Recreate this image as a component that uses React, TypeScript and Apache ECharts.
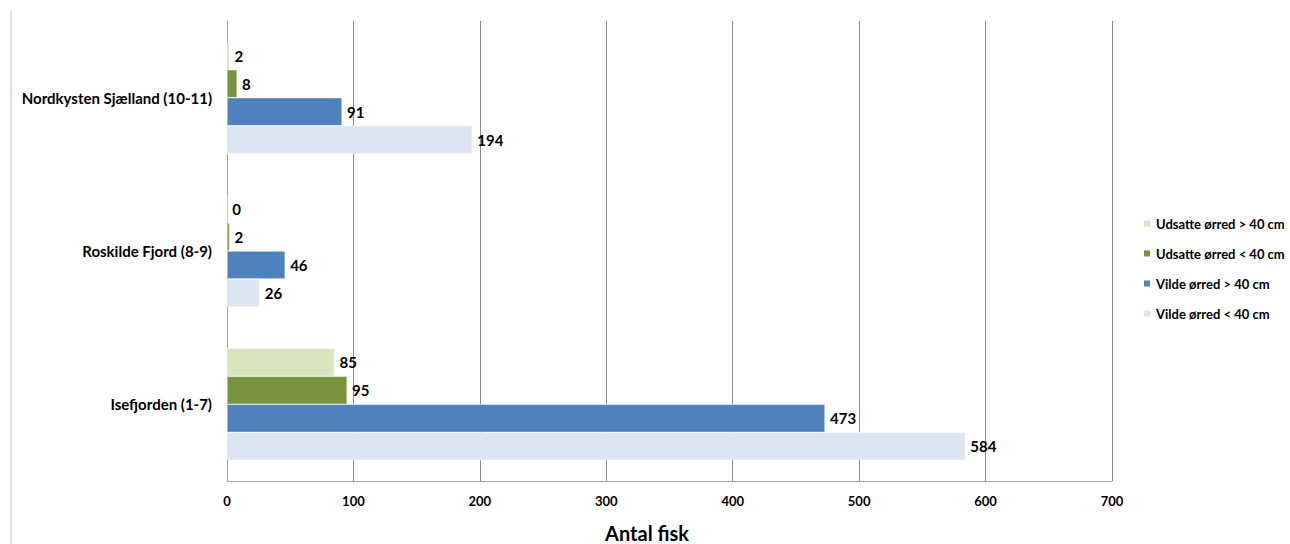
import React, { useEffect, useRef } from "react";
import * as echarts from "echarts";

const categories = ["Isefjorden (1-7)", "Roskilde Fjord (8-9)", "Nordkysten Sjælland (10-11)"];
const seriesNames = ["Udsatte ørred > 40 cm", "Udsatte ørred < 40 cm", "Vilde ørred > 40 cm", "Vilde ørred < 40 cm"];
const udsatteOver40 = [85, 0, 2];
const udsatteUnder40 = [95, 2, 8];
const vildeOver40 = [473, 46, 91];
const vildeUnder40 = [584, 26, 194];
const xTicks = [0, 100, 200, 300, 400, 500, 600, 700];

const colors = ["#d7e4bd", "#77933c", "#4f81bd", "#dce6f2"];
const FONT = "Lato, 'Open Sans', sans-serif";

export default function App() {
  const ref = useRef<HTMLDivElement>(null);
  useEffect(() => {
    if (!ref.current) return;
    const chart = echarts.init(ref.current, undefined, { renderer: "svg" });
    const values = [udsatteOver40, udsatteUnder40, vildeOver40, vildeUnder40];
    chart.setOption({
      animation: false,
      backgroundColor: "#ffffff",
      textStyle: { fontFamily: FONT },
      grid: { left: 227, right: 178, top: 21, bottom: 63 },
      legend: {
        data: seriesNames,
        orient: "vertical",
        left: 1137,
        top: 212,
        itemWidth: 8,
        itemHeight: 8,
        itemGap: 17,
        icon: "rect",
        textStyle: { fontFamily: FONT, fontWeight: "bold", fontSize: 13, color: "#000" },
      },
      xAxis: {
        type: "value",
        min: xTicks[0],
        max: xTicks[xTicks.length - 1],
        interval: 100,
        axisLine: { show: true, lineStyle: { color: "#a6a6a6", width: 1 } },
        axisTick: { show: false },
        splitLine: { show: true, lineStyle: { color: "#8c8c8c", width: 1 } },
        axisLabel: { fontFamily: FONT, fontWeight: "bold", fontSize: 13, color: "#000", margin: 13 },
      },
      yAxis: {
        type: "category",
        data: categories,
        axisLine: { show: true, lineStyle: { color: "#a6a6a6", width: 1 } },
        axisTick: { show: false },
        axisLabel: { fontFamily: FONT, fontWeight: "bold", fontSize: 15, color: "#000", margin: 15 },
      },
      series: seriesNames.map((name, i) => ({
        name,
        type: "bar",
        data: values[i],
        barGap: "0%",
        barCategoryGap: "27%",
        itemStyle: { color: colors[i], borderColor: "#ffffff", borderWidth: 0.5 },
        label: {
          show: true,
          position: "right",
          distance: 5,
          fontFamily: FONT,
          fontWeight: "bold",
          fontSize: 15,
          color: "#000",
        },
      })),
      graphic: [
        {
          type: "line",
          shape: { x1: 11, y1: 11, x2: 11, y2: 544 },
          style: { stroke: "#bfbfbf", lineWidth: 1 },
        },
        {
          type: "line",
          shape: { x1: 1112.5, y1: 21, x2: 1112.5, y2: 481 },
          style: { stroke: "#a6a6a6", lineWidth: 1 },
        },
        {
          type: "text",
          x: 647,
          y: 533,
          style: {
            text: "Antal fisk",
            fontFamily: FONT,
            fontWeight: "bold",
            fontSize: 20,
            fill: "#000",
            textAlign: "center",
            textVerticalAlign: "middle",
          },
        },
      ],
    });
    return () => chart.dispose();
  }, []);
  return <div ref={ref} style={{ position: "absolute", left: 0, top: 0, width: 1290, height: 544 }} />;
}
